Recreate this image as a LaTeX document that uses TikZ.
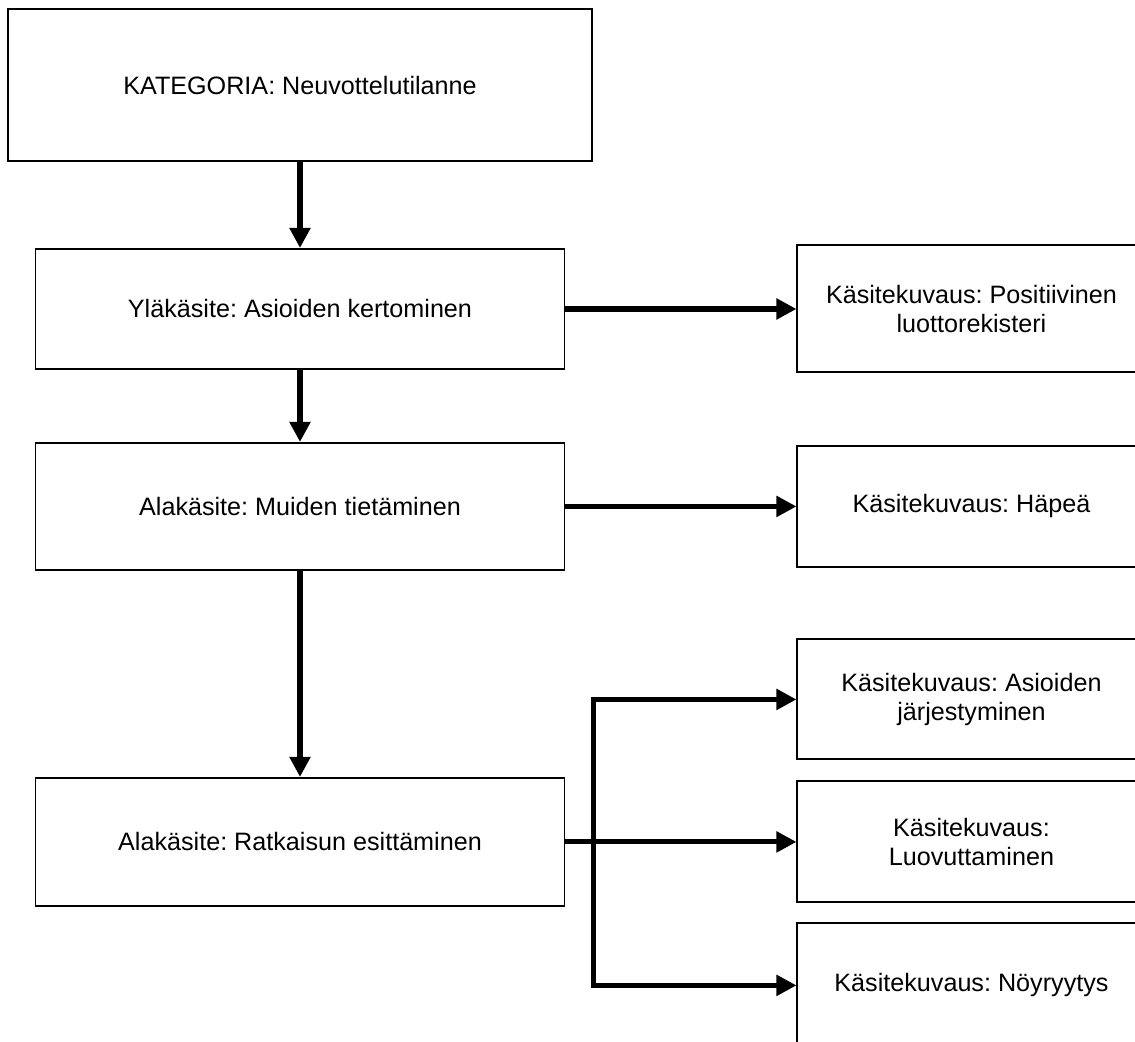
\documentclass[tikz,border=0pt]{standalone}
\usepackage{fontspec}
\setmainfont{Liberation Sans}
\usepackage{tikz}
\usetikzlibrary{positioning,arrows.meta,calc}
\frenchspacing

\begin{document}
\begin{tikzpicture}[auto, node distance=3cm,
    >={Triangle[length=0.5cm,width=0.5cm]},
    box/.style={draw, line width=1.4pt, align=center,
        font=\fontsize{17.9}{21}\selectfont},
    link/.style={->, line width=3.6pt}]
    \useasboundingbox (0,0) rectangle (28.375,-26.025);
    \clip (0,0) rectangle (28.375,-26.025);
    % Categories
    \node [box,
        minimum width=14.6cm,
        minimum height=3.8cm
    ]  (Kategoria) at (7.5,-2.125) {KATEGORIA: Neuvottelutilanne};
    \node [box,
        minimum width=13.225cm,
        minimum height=3cm,
        below=2.15cm of Kategoria
    ]  (Ylakasite) {Yläkäsite: Asioiden kertominen};
    \node [box,
        minimum width=13.225cm,
        minimum height=3.175cm,
        below=1.8cm of Ylakasite
    ]  (Alakasite1) {Alakäsite: Muiden tietäminen};
    \node [box,
        minimum width=13.225cm,
        minimum height=3.2cm,
        below=5.15cm of Alakasite1
    ]  (Alakasite2) {Alakäsite: Ratkaisun esittäminen};
    % Descriptions
    \node [box,
        minimum width=8.7cm,
        minimum height=3.175cm,
        right=5.775cm of Ylakasite
    ] (Kuvaus1) {Käsitekuvaus: Positiivinen\\luottorekisteri};
    \node [box,
        minimum width=8.7cm,
        minimum height=3.025cm,
        right=5.775cm of Alakasite1
    ] (Kuvaus2) {Käsitekuvaus: Häpeä};
    \node [box,
        minimum width=8.7cm,
        minimum height=3.025cm,
        right=5.775cm of Alakasite2
    ] (Kuvaus4) {Käsitekuvaus:\\Luovuttaminen};
    \node [box,
        minimum width=8.7cm,
        minimum height=3cm,
        above=0.5cm of Kuvaus4
    ] (Kuvaus3) {Käsitekuvaus: Asioiden\\järjestyminen};
    \node [box,
        minimum width=8.7cm,
        minimum height=3.1cm,
        below=0.475cm of Kuvaus4
    ] (Kuvaus5) {Käsitekuvaus: Nöyryytys};
    \coordinate (Haara) at ($(Alakasite2.east)!0.121!(Kuvaus4.west)$);
    % Arrows
    \draw[link] (Kategoria.south) -- (Ylakasite.north);
    \draw[link] (Ylakasite.south) -- (Alakasite1.north);
    \draw[link] (Alakasite1.south) -- (Alakasite2.north);
    \draw[link] (Ylakasite.east) -- (Kuvaus1.west);
    \draw[link] (Alakasite1.east) -- (Kuvaus2.west);
    \draw[link] (Alakasite2.east) -- (Kuvaus4.west);
    \draw[link, <->] (Kuvaus3.west) -| (Haara) |- (Kuvaus5.west);

\end{tikzpicture}
\end{document}
